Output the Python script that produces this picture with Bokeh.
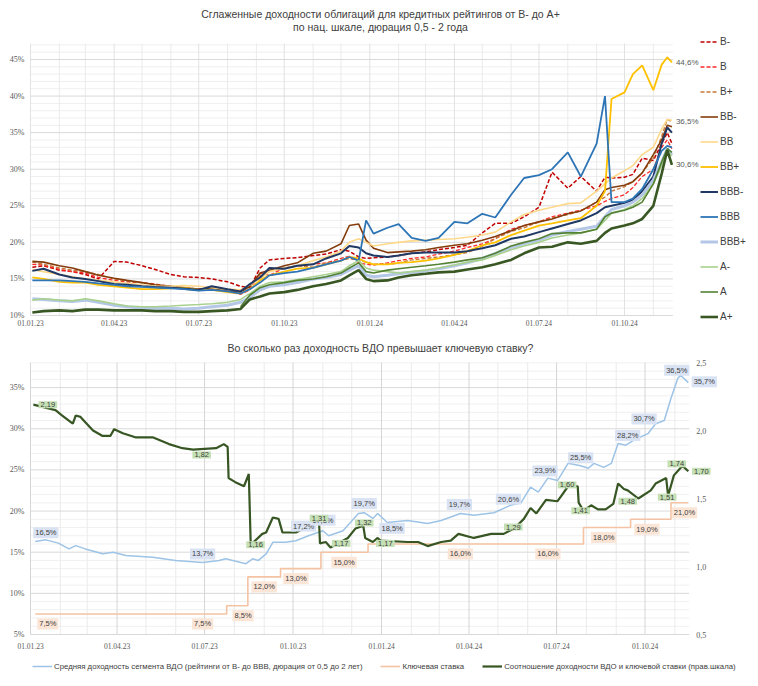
import pandas as pd
from bokeh.plotting import figure
from bokeh.models import Range1d, Legend, LegendItem, Label
from bokeh.embed import file_html
from bokeh.resources import INLINE

FONT = "Liberation Sans"
TXT = "#404040"
AX = "#595959"
NAN = float("nan")

W, H = 756, 684


def ms(s):
    return pd.Timestamp(s).value / 1e6


def ms_days(start, days):
    return (pd.Timestamp(start) + pd.Timedelta(days=days)).value / 1e6


# ---------------- top panel data ----------------
top_dates = ["2023-01-03", "2023-01-15", "2023-02-01", "2023-02-15", "2023-03-01", "2023-03-15",
             "2023-04-01", "2023-04-15", "2023-05-01", "2023-05-15", "2023-06-01", "2023-06-15",
             "2023-07-01", "2023-07-15", "2023-08-01", "2023-08-15", "2023-08-25", "2023-09-05",
             "2023-09-15", "2023-10-01", "2023-10-15", "2023-11-01", "2023-11-15", "2023-12-01",
             "2023-12-10", "2023-12-20", "2023-12-28", "2024-01-05", "2024-01-20", "2024-02-01",
             "2024-02-15", "2024-03-01", "2024-03-15", "2024-04-01", "2024-04-15", "2024-05-01",
             "2024-05-15", "2024-06-01", "2024-06-15", "2024-07-01", "2024-07-15", "2024-08-01",
             "2024-08-15", "2024-09-01", "2024-09-10", "2024-09-17", "2024-10-01", "2024-10-10",
             "2024-10-20", "2024-11-01", "2024-11-10", "2024-11-16", "2024-11-21"]

y_b_minus = [16.6, 16.8, 16.2, 16.0, 15.6, 15.0, 17.4, 17.3, 16.8, 16.3, 15.6, 15.3, 15.2, 15.0, 14.6,
             14.0, 13.8, 16.5, 17.6, 17.8, 17.9, 18.2, 18.4, 19.0, 18.8, 18.0, 17.8, 17.9, 18.0, 18.2,
             18.5, 18.7, 19.0, 19.3, 19.6, 21.3, 22.6, 22.6, 23.5, 24.8, 29.6, 27.4, 29.0, 27.0, 28.9,
             28.8, 28.9, 29.3, 31.5, 31.2, 33.5, 35.0, 33.5]
y_b = [17.0, 16.9, 16.3, 16.0, 15.8, 15.2, 14.8, 14.6, 14.5, 14.3, 14.0, 13.8, 13.6, 13.8, 13.3,
       12.9, 13.5, 15.8, 15.5, 16.5, 16.8, 17.0, 17.2, 17.8, 18.1, 17.2, 17.0, 16.9, 17.2, 17.5,
       17.8, 18.0, 18.4, 18.8, 19.3, 19.8, 20.5, 21.8, 22.3, 22.8, 23.5, 24.0, 24.4, 25.0, 25.6,
       26.0, 26.5, 27.5, 29.0, 30.0, 33.0, 34.0, 32.8]
y_b_plus = [17.3, 17.0, 16.5, 16.2, 16.0, 15.6, 15.0, 14.7, 14.5, 14.2, 13.9, 13.6, 13.4, 13.8, 13.5,
            13.3, 14.2, 15.5, 16.0, 16.5, 16.8, 16.6, 17.2, 17.5, 17.8, 17.5, 17.3, 17.0, 17.0, 17.2,
            17.6, 17.8, 18.0, 18.3, 18.6, 19.5, 20.5, 21.5, 22.0, 22.8, 23.3, 23.8, 24.3, 25.5, 26.2,
            27.0, 27.6, 28.3, 29.5, 31.5, 34.5, 36.8, 36.5]
y_bb_minus = [17.4, 17.3, 16.8, 16.5, 16.0, 15.5, 15.1, 14.8, 14.5, 14.2, 14.0, 13.8, 13.6, 13.7, 13.3,
              13.2, 14.0, 15.8, 16.2, 16.8, 17.2, 18.5, 18.8, 19.8, 22.3, 22.5, 20.3, 19.2, 18.6, 18.7,
              18.8, 19.0, 19.3, 19.6, 19.8, 20.3, 20.8, 21.6, 22.3, 22.8, 23.2, 23.9, 24.3, 25.5, 27.2,
              27.5, 27.8, 28.3, 29.5, 32.0, 34.0, 36.0, 35.8]
y_bb = [16.3, 16.0, 15.6, 15.3, 15.0, 14.8, 14.6, 14.4, 14.2, 14.0, 14.0, 14.1, 14.0, 13.8, 13.6,
        13.5, 14.2, 15.0, 16.0, 16.5, 16.8, 17.5, 18.0, 18.8, 20.0, 20.5, 20.0, 19.5, 19.8, 20.0,
        20.2, 20.3, 20.4, 20.5, 20.7, 21.0, 21.4, 22.8, 23.8, 24.4, 24.8, 25.3, 25.4, 27.0, 28.0,
        28.8, 29.8, 30.5, 32.0, 33.0, 35.5, 36.8, 36.7]
y_bb_plus = [15.2, 15.0, 14.6, 14.5, 14.5, 14.2, 14.0, 13.8, 13.6, 13.6, 13.7, 13.8, 13.5, 13.5, 13.2,
             13.0, 13.6, 14.8, 15.5, 16.0, 16.4, 16.5, 17.0, 17.5, 18.0, 17.8, 17.3, 17.0, 17.0, 17.2,
             17.3, 17.5, 17.8, 18.3, 18.8, 19.6, 20.0, 21.0, 21.6, 22.3, 22.6, 23.0, 23.3, 25.0, 27.0,
             39.6, 40.5, 43.0, 44.2, 40.8, 44.3, 45.3, 44.6]
y_bbb_minus = [16.1, 16.4, 15.6, 15.2, 15.0, 14.7, 14.3, 14.2, 14.0, 13.9, 13.8, 13.7, 13.5, 14.0, 13.6,
               13.3, 14.3, 15.2, 16.5, 16.4, 16.8, 17.0, 17.8, 18.5, 19.5, 19.3, 18.5, 18.2, 18.0, 18.2,
               18.5, 18.6, 18.6, 18.6, 18.8, 19.2, 19.6, 20.5, 20.8, 21.4, 21.9, 22.5, 23.0, 24.0, 24.8,
               25.0, 25.4, 25.8, 27.0, 29.0, 33.5, 35.7, 35.0]
y_bbb = [14.8, 14.8, 14.8, 14.7, 14.6, 14.4, 14.2, 14.0, 13.9, 13.8, 13.7, 13.6, 13.4, 13.5, 13.3,
         13.0, 13.6, 14.5, 15.5, 15.8, 16.0, 16.5, 17.0, 17.5, 18.0, 17.5, 23.0, 21.2, 22.0, 22.5,
         20.6, 20.2, 20.6, 22.8, 22.6, 23.9, 23.4, 26.5, 28.8, 29.2, 30.0, 32.3, 29.0, 33.5, 40.0,
         25.5, 25.5, 26.0, 27.3, 30.0, 32.5, 33.2, 33.0]
y_bbb_plus = [12.3, 12.2, 12.0, 11.9, 12.1, 11.8, 11.4, 11.2, 11.0, 11.0, 11.0, 10.9, 11.0, 11.2, 11.4,
              11.8, 12.5, 13.5, 14.0, 14.2, 14.5, 15.0, 15.2, 15.6, 16.2, 16.8, 15.5, 15.3, 15.5, 15.7,
              15.9, 16.1, 16.4, 16.8, 17.2, 17.8, 18.5, 19.3, 19.8, 20.3, 21.0, 21.5, 21.8, 22.2, 23.5,
              24.5, 25.0, 25.5, 26.5, 28.5, 31.0, 32.8, 32.0]
y_a_minus = [12.1, 12.3, 12.1, 12.0, 12.3, 12.0, 11.6, 11.3, 11.2, 11.2, 11.3, 11.4, 11.5, 11.6, 11.8,
             12.2, 13.0, 14.0, 14.5, 14.6, 14.9, 15.3, 15.6, 16.0, 16.8, 17.5, 16.5, 16.2, 16.0, 15.8,
             16.0, 16.2, 16.5, 16.9, 17.3, 17.6, 18.2, 19.0, 19.5, 20.0, 20.6, 21.0, 21.3, 21.8, 23.0,
             24.0, 24.5, 25.0, 26.0, 28.0, 30.5, 32.5, 31.8]
y_a = [NAN, NAN, NAN, NAN, NAN, NAN, NAN, NAN, NAN, NAN, NAN, NAN, NAN, NAN, NAN,
       11.2, 12.8, 13.8, 14.2, 14.5, 14.8, 15.0, 15.3, 15.8, 16.5, 17.2, 16.0, 15.8, 16.2, 16.4,
       16.6, 16.8, 17.0, 17.3, 17.6, 17.9, 18.5, 19.5, 20.0, 20.5, 21.2, 21.3, 21.3, 21.8, 23.5,
       24.0, 24.4, 24.8, 25.5, 28.0, 31.0, 32.8, 32.3]
y_a_plus = [10.4, 10.6, 10.7, 10.6, 10.8, 10.8, 10.7, 10.7, 10.7, 10.6, 10.6, 10.5, 10.5, 10.6, 10.7,
            10.9, 12.2, 12.6, 13.0, 13.2, 13.5, 14.0, 14.3, 14.8, 15.5, 16.2, 15.0, 14.7, 14.8, 15.2,
            15.5, 15.7, 15.9, 16.0, 16.3, 16.6, 17.0, 17.6, 18.5, 19.3, 19.4, 20.0, 19.8, 20.2, 21.3,
            21.9, 22.3, 22.6, 23.2, 25.0, 29.4, 32.6, 30.6]

rating_names = ["B-", "B", "B+", "BB-", "BB", "BB+", "BBB-", "BBB", "BBB+", "A-", "A", "A+"]
rating_values = [y_b_minus, y_b, y_b_plus, y_bb_minus, y_bb, y_bb_plus,
                 y_bbb_minus, y_bbb, y_bbb_plus, y_a_minus, y_a, y_a_plus]
rating_colors = ["#c00000", "#ff2a2a", "#c8783a", "#843c0c", "#ffd98a", "#ffc000",
                 "#1f3864", "#2e75b6", "#b4c7e7", "#a9d18e", "#548235", "#385723"]
rating_widths = [1.5, 1.3, 1.4, 1.6, 1.6, 1.8, 2.0, 1.8, 3.0, 1.6, 1.6, 2.6]
rating_dash = ["4 2", "4 2", "4 2", "solid", "solid", "solid",
               "solid", "solid", "solid", "solid", "solid", "solid"]
end_label_values = [44.6, 36.5, 30.6]

top_title_1 = "Сглаженные доходности облигаций для кредитных рейтингов от B- до A+"
top_title_2 = "по нац. шкале, дюрация 0,5 - 2 года"
top_y_ticks = [10, 15, 20, 25, 30, 35, 40, 45]

# ---------------- bottom panel data ----------------
avg_dates = ["2023-01-06", "2023-01-17", "2023-01-30", "2023-02-10", "2023-02-17", "2023-02-27",
             "2023-03-17", "2023-03-28", "2023-04-10", "2023-05-08", "2023-06-01", "2023-06-29",
             "2023-07-16", "2023-07-23", "2023-08-13", "2023-08-20", "2023-08-26", "2023-09-03",
             "2023-09-10", "2023-09-23", "2023-10-04", "2023-10-17", "2023-11-01", "2023-11-07",
             "2023-11-22", "2023-12-08", "2023-12-14", "2023-12-23", "2023-12-28", "2024-01-07",
             "2024-01-28", "2024-02-18", "2024-03-03", "2024-03-23", "2024-04-06", "2024-04-27",
             "2024-05-14", "2024-05-25", "2024-06-04", "2024-06-12", "2024-06-22", "2024-07-02",
             "2024-07-13", "2024-07-26", "2024-08-03", "2024-08-09", "2024-08-19", "2024-08-27",
             "2024-09-03", "2024-09-11", "2024-09-19", "2024-10-04", "2024-10-12", "2024-10-21",
             "2024-10-28", "2024-11-04", "2024-11-07", "2024-11-15"]
avg_yield = [16.3, 16.5, 16.1, 15.4, 15.8, 15.4, 14.8, 15.0, 14.6, 14.4, 14.0, 13.75,
             14.0, 14.2, 13.6, 14.2, 14.0, 14.8, 16.2, 16.2, 16.4, 17.0, 17.6, 17.0,
             17.6, 19.7, 19.8, 19.1, 19.7, 18.6, 18.85, 18.5, 18.85, 19.7, 19.5, 19.8,
             20.7, 21.0, 22.9, 22.3, 24.0, 23.7, 25.8, 25.5, 25.2, 25.8, 25.3, 25.8,
             28.2, 28.0, 28.6, 29.4, 30.6, 31.0, 33.7, 36.1, 36.5, 35.6]

key_dates = ["2023-01-06", "2023-07-24", "2023-08-15", "2023-09-18", "2023-10-30", "2023-12-18",
             "2024-07-29", "2024-09-16", "2024-10-28", "2024-11-15"]
key_rate = [7.5, 8.5, 12.0, 13.0, 15.0, 16.0, 18.0, 19.0, 21.0, 21.0]

ratio_dates = ["2023-01-04", "2023-01-27", "2023-02-03", "2023-02-14", "2023-02-17", "2023-02-22",
               "2023-02-27", "2023-03-07", "2023-03-17", "2023-03-25", "2023-03-29", "2023-04-07",
               "2023-04-20", "2023-05-08", "2023-05-25", "2023-06-08", "2023-06-19", "2023-07-13",
               "2023-07-21", "2023-07-25", "2023-07-26", "2023-08-02", "2023-08-11", "2023-08-16",
               "2023-08-18", "2023-08-30", "2023-09-03", "2023-09-10", "2023-09-16", "2023-09-20",
               "2023-10-04", "2023-10-18", "2023-10-28", "2023-10-29", "2023-11-04", "2023-11-09",
               "2023-11-27", "2023-12-05", "2023-12-13", "2023-12-15", "2023-12-23", "2023-12-28",
               "2023-12-31", "2024-01-28", "2024-02-08", "2024-02-18", "2024-03-03", "2024-03-13",
               "2024-03-21", "2024-04-06", "2024-04-24", "2024-05-07", "2024-05-18", "2024-05-28",
               "2024-06-04", "2024-06-10", "2024-06-20", "2024-07-02", "2024-07-06", "2024-07-13",
               "2024-07-23", "2024-07-24", "2024-07-29", "2024-08-06", "2024-08-13", "2024-08-21",
               "2024-08-29", "2024-09-03", "2024-09-09", "2024-09-13", "2024-09-24", "2024-10-07",
               "2024-10-12", "2024-10-23", "2024-10-25", "2024-10-31", "2024-11-05", "2024-11-09",
               "2024-11-15"]
ratio = [2.19, 2.15, 2.11, 2.05, 2.11, 2.10, 2.06, 2.00, 1.96, 1.96, 2.01, 1.98,
         1.95, 1.95, 1.90, 1.87, 1.86, 1.87, 1.90, 1.88, 1.65, 1.62, 1.59, 1.68,
         1.16, 1.24, 1.25, 1.36, 1.35, 1.25, 1.25, 1.30, 1.34, 1.17, 1.18, 1.14,
         1.21, 1.28, 1.30, 1.21, 1.18, 1.21, 1.19, 1.18, 1.18, 1.15, 1.18, 1.19,
         1.24, 1.21, 1.24, 1.24, 1.28, 1.35, 1.43, 1.39, 1.49, 1.48, 1.52, 1.59,
         1.59, 1.47, 1.41, 1.45, 1.42, 1.42, 1.46, 1.61, 1.57, 1.56, 1.50, 1.56,
         1.61, 1.65, 1.52, 1.67, 1.71, 1.74, 1.70]

# data labels: date, value, vertical offset (px, up), horizontal offset (px)
avg_label_dates = ["2023-01-17", "2023-06-29", "2023-10-12", "2023-11-01", "2023-12-14", "2024-01-12",
                   "2024-03-22", "2024-05-12", "2024-06-19", "2024-07-26", "2024-09-13", "2024-09-30",
                   "2024-11-03", "2024-11-15"]
avg_label_values = [16.5, 13.7, 17.2, 17.8, 19.7, 18.5, 19.7, 20.6, 23.9, 25.5, 28.2, 30.7, 36.5, 35.7]
avg_label_dy = [7, 9, 8, 9, 10, -5, 9, 7, 8, 8, 8, 4, 5, 0]
avg_label_dx = [0, 0, 0, 0, 0, 0, 0, 0, 0, 0, 0, 0, 0, 16]

key_label_dates = ["2023-01-19", "2023-06-29", "2023-08-10", "2023-09-01", "2023-10-04", "2023-11-23",
                   "2024-03-23", "2024-06-22", "2024-08-19", "2024-10-03", "2024-11-11"]
key_label_values = [7.5, 7.5, 8.5, 12.0, 13.0, 15.0, 16.0, 16.0, 18.0, 19.0, 21.0]

ratio_label_dates = ["2023-01-19", "2023-06-28", "2023-08-23", "2023-10-28", "2023-11-20", "2023-12-14",
                     "2024-01-05", "2024-05-17", "2024-07-12", "2024-07-26", "2024-09-13", "2024-10-24",
                     "2024-11-03", "2024-11-15"]
ratio_label_values = [2.19, 1.82, 1.16, 1.31, 1.17, 1.32, 1.17, 1.29, 1.60, 1.41, 1.48, 1.51, 1.74, 1.70]
ratio_label_dy = [0, 0, 0, 6, 0, 0, 0, 0, 0, 0, 0, 0, 2, 0]
ratio_label_dx = [0, 0, 0, 0, 0, 0, 0, 0, 0, 0, 0, 0, 0, 13]

bottom_title = "Во сколько раз доходность ВДО превышает ключевую ставку?"
left_ticks = [5, 10, 15, 20, 25, 30, 35]
right_ticks = [0.5, 1.0, 1.5, 2.0, 2.5]
legend_labels = ["Средняя доходность сегмента ВДО (рейтинги от B- до BBB, дюрация от 0,5 до 2 лет)",
                 "Ключевая ставка",
                 "Соотношение доходности ВДО и ключевой ставки (прав.шкала)"]

quarter_ticks = ["2023-01-01", "2023-04-01", "2023-07-01", "2023-10-01",
                 "2024-01-01", "2024-04-01", "2024-07-01", "2024-10-01"]
month_ticks = [f"{y}-{m:02d}-01" for y in (2023, 2024) for m in range(1, 13)][:23]
DATEFMT = "%d.%m.%y"

# ---------------- page geometry (pixels) ----------------
# top panel : 01.01.23 at x=30, 0.9296 px/day ; 10% at y=315, 7.314 px per 1%
# bottom    : 01.01.23 at x=30, 0.9617 px/day ; 5% at y=634, 8.23 px per 1% ; ratio 0.5 at y=634, 136 px per 1.0
T_X0, T_PXD, T_Y10, T_PXP = 30, 0.9296, 315, 7.314
B_X0, B_PXD, B_Y5, B_PXP, B_PXR = 30, 0.9617, 634, 8.23, 136

p = figure(width=W, height=H, output_backend="svg", toolbar_location=None,
           x_axis_location=None, y_axis_location=None,
           x_range=Range1d(0, 1), y_range=Range1d(0, 1),
           min_border_left=0, min_border_right=0, min_border_top=0, min_border_bottom=0)
p.title = None
p.outline_line_color = None
p.grid.visible = False
p.extra_x_ranges = {
    "top": Range1d(ms_days("2023-01-01", -T_X0 / T_PXD), ms_days("2023-01-01", (W - T_X0) / T_PXD)),
    "bot": Range1d(ms_days("2023-01-01", -B_X0 / B_PXD), ms_days("2023-01-01", (W - B_X0) / B_PXD)),
}
p.extra_y_ranges = {
    "top": Range1d(10 - (H - T_Y10) / T_PXP, 10 + T_Y10 / T_PXP),
    "left": Range1d(5 - (H - B_Y5) / B_PXP, 5 + B_Y5 / B_PXP),
    "right": Range1d(0.5 - (H - B_Y5) / B_PXR, 0.5 + B_Y5 / B_PXR),
}


def draw_grid(xr, yr, x_end, y_lo, y_top, major_y, quarter_color, month_color,
              major_color, minor_color):
    kw = dict(x_range_name=xr, y_range_name=yr, line_width=1)
    x0 = ms("2023-01-01")
    ys = [v for v in range(y_lo, int(y_top) + 1) if v not in major_y]
    p.segment(x0=[x0] * len(ys), y0=ys, x1=[x_end] * len(ys), y1=ys, line_color=minor_color, **kw)
    months = [ms(d) for d in month_ticks if d not in quarter_ticks]
    p.segment(x0=months, y0=[y_lo] * len(months), x1=months, y1=[y_top] * len(months),
              line_color=month_color, **kw)
    qs = [ms(d) for d in quarter_ticks]
    p.segment(x0=qs, y0=[y_lo] * len(qs), x1=qs, y1=[y_top] * len(qs), line_color=quarter_color, **kw)
    p.segment(x0=[x0] * len(major_y), y0=major_y, x1=[x_end] * len(major_y), y1=major_y,
              line_color=major_color, **kw)


def fmt_pct(v):
    return f"{v:.1f}%".replace(".", ",")


def text(xr, yr, xs, ys, texts, size, color, align, dx=0, dy=0):
    p.text(x=xs, y=ys, text=texts, x_range_name=xr, y_range_name=yr, x_offset=dx, y_offset=dy,
           text_font=FONT, text_font_size=size, text_color=color, text_align=align,
           text_baseline="middle")


# ================= TOP PANEL =================
top_end = ms("2024-11-22")
draw_grid("top", "top", top_end, 10, 47.19, top_y_ticks, "#e2e2e2", "#ebebeb", "#d9d9d9", "#efefef")
start = ms("2023-01-01")
text("top", "top", [start] * len(top_y_ticks), top_y_ticks, [f"{t}%" for t in top_y_ticks],
     "8px", AX, "right", dx=-6)
text("top", "top", [ms(d) for d in quarter_ticks], [10] * len(quarter_ticks),
     [pd.Timestamp(d).strftime(DATEFMT) for d in quarter_ticks], "7.5px", AX, "center", dy=7)

top_x = [ms(d) for d in top_dates]
items = []
for name, vals, col, w, dash in zip(rating_names, rating_values, rating_colors, rating_widths, rating_dash):
    r = p.line(top_x, vals, line_color=col, line_width=w, line_dash=dash,
               x_range_name="top", y_range_name="top")
    items.append(LegendItem(label=name, renderers=[r]))

leg1 = Legend(items=items, location=(700, H - 327), orientation="vertical",
              label_text_font=FONT, label_text_font_size="10px", label_text_color=TXT,
              glyph_width=18, glyph_height=21, label_height=21, spacing=4, padding=0,
              label_standoff=2, border_line_color=None, background_fill_alpha=0, margin=0)
p.add_layout(leg1)

for v in end_label_values:
    p.add_layout(Label(x=top_x[-1], y=v, x_offset=4, text=fmt_pct(v), text_font=FONT,
                       text_font_size="8px", text_color=AX, text_align="left",
                       text_baseline="middle", x_range_name="top", y_range_name="top"))

for txt, yy in ((top_title_1, 13), (top_title_2, 26)):
    p.add_layout(Label(x=380, y=H - yy, x_units="screen", y_units="screen", text=txt,
                       text_font=FONT, text_font_size="10.5px", text_color=TXT,
                       text_align="center", text_baseline="middle"))

# ================= BOTTOM PANEL =================
bot_end = ms("2024-11-16")
draw_grid("bot", "left", bot_end, 5, 38.03, left_ticks, "#d6d6d6", "#ebebeb", "#d9d9d9", "#f0f0f0")
text("bot", "left", [ms(d) for d in quarter_ticks], [5] * len(quarter_ticks),
     [pd.Timestamp(d).strftime(DATEFMT) for d in quarter_ticks], "7.5px", AX, "center", dy=11)
text("bot", "left", [start] * len(left_ticks), left_ticks, [f"{t}%" for t in left_ticks],
     "8px", AX, "right", dx=-6)
text("bot", "right", [bot_end] * len(right_ticks), right_ticks,
     [f"{t:.1f}".replace(".", ",") for t in right_ticks], "8px", AX, "left", dx=7)

r_avg = p.line([ms(d) for d in avg_dates], avg_yield, line_color="#9dc3e6", line_width=1.5,
               x_range_name="bot", y_range_name="left")
r_key = p.step([ms(d) for d in key_dates], key_rate, mode="after", line_color="#f4c3a3",
               line_width=1.6, x_range_name="bot", y_range_name="left")
r_rat = p.line([ms(d) for d in ratio_dates], ratio, line_color="#375623", line_width=2.2,
               x_range_name="bot", y_range_name="right")


def add_labels(dates, values, dys, dxs, texts, bg, yname):
    for d, v, dy, dx, t in zip(dates, values, dys, dxs, texts):
        p.add_layout(Label(x=ms(d), y=v, y_offset=dy, x_offset=dx, text=t, text_font=FONT,
                           text_font_size="7.5px", text_color=TXT, text_align="center",
                           text_baseline="middle", background_fill_color=bg,
                           padding=(2, 1), x_range_name="bot", y_range_name=yname))


add_labels(key_label_dates, key_label_values, [-10] * len(key_label_values),
           [0] * len(key_label_values), [fmt_pct(v) for v in key_label_values], "#fbe5d6", "left")
add_labels(avg_label_dates, avg_label_values, avg_label_dy, avg_label_dx,
           [fmt_pct(v) for v in avg_label_values], "#dae3f3", "left")
add_labels(ratio_label_dates, ratio_label_values, ratio_label_dy, ratio_label_dx,
           [f"{v:.2f}".replace(".", ",") for v in ratio_label_values], "#c5e0b4", "right")

leg2 = Legend(items=[LegendItem(label=legend_labels[0], renderers=[r_avg]),
                     LegendItem(label=legend_labels[1], renderers=[r_key]),
                     LegendItem(label=legend_labels[2], renderers=[r_rat])],
              location=(32, H - 673), orientation="horizontal", label_text_font=FONT,
              label_text_font_size="7.8px", label_text_color=TXT, glyph_width=20, glyph_height=14,
              label_height=14, spacing=18, padding=3, label_standoff=2, border_line_color=None,
              background_fill_alpha=0, margin=0)
p.add_layout(leg2)

p.add_layout(Label(x=380, y=H - 347, x_units="screen", y_units="screen", text=bottom_title,
                   text_font=FONT, text_font_size="10.5px", text_color=TXT,
                   text_align="center", text_baseline="middle"))

open("out.html", "w").write(file_html(p, INLINE))
